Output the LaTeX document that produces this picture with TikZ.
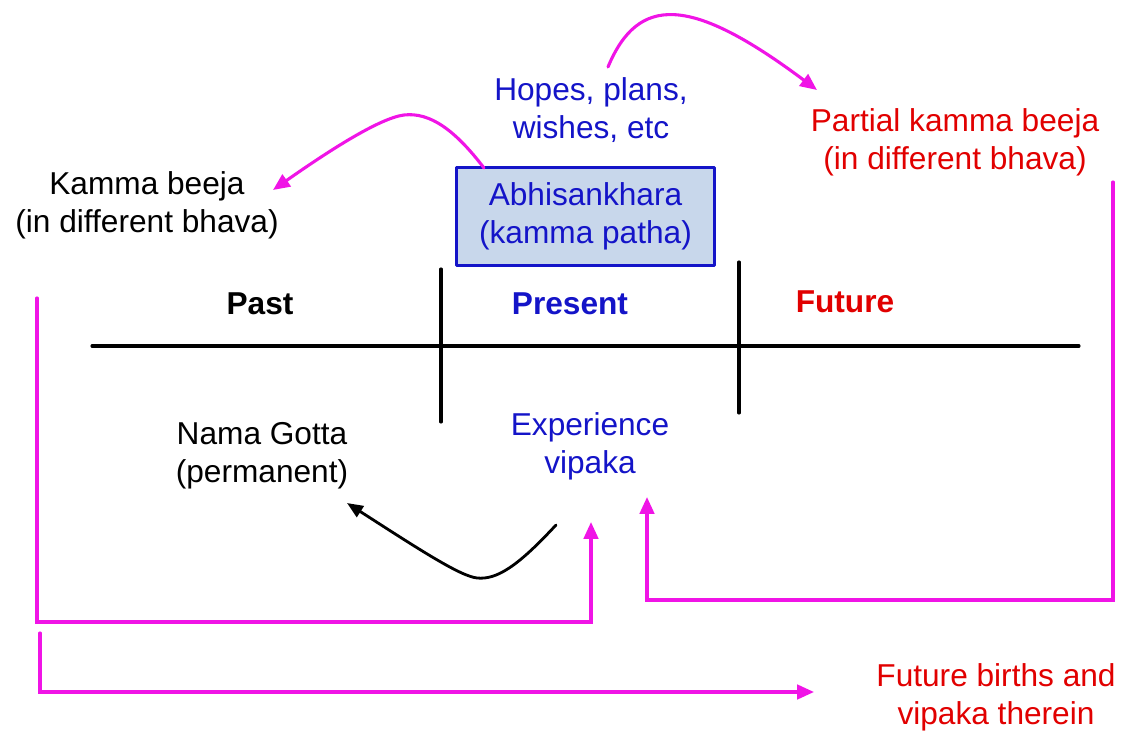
\documentclass[tikz,border=0pt]{standalone}
\usepackage{fontspec}
\setmainfont{Liberation Sans}
\usetikzlibrary{arrows.meta, calc}
\definecolor{txtblue}{RGB}{20,20,200}
\definecolor{txtred}{RGB}{225,0,0}
\definecolor{linkpink}{RGB}{240,20,230}
\definecolor{boxfill}{RGB}{200,215,235}

\begin{document}
\begin{tikzpicture}[x=0.025cm, y=-0.025cm, line cap=round, line join=round,
	font=\fontsize{22.5}{27}\selectfont,
	lbl/.style={align=center, inner sep=0pt},
	era/.style={inner sep=0pt, font=\fontsize{22.5}{27}\selectfont\bfseries},
	link/.style={draw=linkpink, line width=2.2pt, line join=miter,
		-{Triangle[length=0.42cm, width=0.36cm]}},
	axisline/.style={black, line width=2.2pt}]

\useasboundingbox (0,0) rectangle (1125,734);

%========================
% Time line: past | present | future
%========================
\coordinate (tl) at (92,346);
\coordinate (tr) at (1079,346);
\draw[axisline] (tl) -- (tr);
\draw[axisline] (441,269) -- (441,422);
\draw[axisline] (739,262) -- (739,413);

\node[era] (past) at (260,304) {Past};
\node[era, txtblue] (present) at (570,304) {Present};
\node[era, txtred] (future) at (845,302) {Future};

%========================
% Present: volition and its results
%========================
\node[lbl, txtblue] (hopes) at (591,110) {Hopes, plans,\\wishes, etc};
\node[lbl, txtblue, draw=txtblue, fill=boxfill, line width=2.2pt,
	minimum width=6.43cm, minimum height=2.43cm] (abhi) at (585.5,216.5)
	{Abhisankhara\\(kamma patha)};
\node[lbl, txtblue] (exper) at (590,446) {Experience\\vipaka};

% seeds
\node[lbl] (kbeeja) at (147,205) {Kamma beeja\\(in different bhava)};
\node[lbl, txtred] (pbeeja) at (955,142) {Partial kamma beeja\\(in different bhava)};
\node[lbl] (nama) at (262,456) {Nama Gotta\\(permanent)};
\node[lbl, txtred] (fbirths) at (996,697) {Future births and\\vipaka therein};

% connector ends
\coordinate (hopesOut) at (608,67);
\coordinate (pbIn) at (817,90);
\coordinate (abhiOut) at (484,168);
\coordinate (kbIn) at (273,190);
\coordinate (kbDown) at (37,298);
\coordinate (fbDown) at (40,633);
\coordinate (fbIn) at (814,692);
\coordinate (pbDown) at (1113,182);
\coordinate (exIn1) at (591,522);
\coordinate (exIn2) at (647,497);
\coordinate (exOut) at (556,525);
\coordinate (namaIn) at (347,503);
\coordinate (lowA) at (0,622);
\coordinate (lowB) at (0,600);

%========================
% Arrows
%========================
% plans -> partial seed, abhisankhara -> seed
\draw[link] (hopesOut) .. controls (638,-5) and (690,-5) .. (pbIn);
\draw[link] (abhiOut) .. controls (455,130) and (430,112) .. (404,115)
	.. controls (380,118) and (330,150) .. (kbIn);

% seeds come back as vipaka
\draw[link] (kbDown) |- (lowA -| exIn1) -- (exIn1);
\draw[link] (pbDown) |- (lowB -| exIn2) -- (exIn2);
\draw[link] (fbDown) |- (fbIn);

% vipaka -> nama gotta
\draw[black, line width=2pt, -{Triangle[length=0.4cm, width=0.32cm]}]
	(exOut) .. controls (518,566) and (497,580) .. (477,578)
	.. controls (460,576) and (420,550) .. (namaIn);

\end{tikzpicture}
\end{document}
